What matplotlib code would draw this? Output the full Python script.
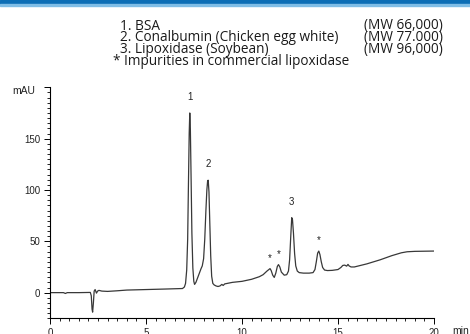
import numpy as np
import matplotlib.pyplot as plt
from matplotlib.patches import Rectangle
from matplotlib.ticker import MultipleLocator

# chromatogram trace, retention time (min) vs absorbance (mAU)
time_min = [0.0, 0.7, 0.8, 0.9, 1.5, 2.1, 2.15, 2.19, 2.22, 2.26, 2.3, 2.35, 2.42, 2.48, 2.55,
            2.7, 3.0, 3.5, 4.0, 5.0, 6.0, 6.9, 7.0, 7.06, 7.12, 7.17, 7.21, 7.25, 7.28,
            7.31, 7.35, 7.39, 7.44, 7.49, 7.53, 7.6, 7.7, 7.8, 7.87, 7.93, 8.0, 8.06,
            8.12, 8.17, 8.21, 8.24, 8.28, 8.32, 8.37, 8.42, 8.48, 8.55, 8.65, 8.75, 8.85,
            8.95, 9.02, 9.1, 9.5, 10.0, 10.5, 10.9, 11.1, 11.3, 11.4, 11.46, 11.52, 11.6,
            11.68, 11.76, 11.84, 11.9, 11.97, 12.05, 12.2, 12.33, 12.42, 12.48, 12.54,
            12.59, 12.63, 12.68, 12.74, 12.8, 12.88, 12.98, 13.2, 13.5, 13.7, 13.8, 13.87,
            13.94, 14.0, 14.06, 14.13, 14.2, 14.3, 14.45, 14.7, 15.0, 15.15, 15.25, 15.35,
            15.45, 15.52, 15.58, 15.68, 15.85, 16.5, 17.2, 17.8, 18.3, 18.6, 19.0, 20.0]
absorbance_mau = [0.0, 0.0, -0.8, 0.0, 0.0, 0.2, -3, -16, -19, -10, 1.5, 3, -0.5, 1.5, 2.2,
                  1.5, 1.2, 1.8, 2.5, 3.0, 3.5, 4.0, 5.5, 9, 22, 52, 105, 155, 175,
                  160, 110, 58, 24, 11, 8, 10, 15, 20, 23.5, 26, 33, 52,
                  80, 100, 109, 109.5, 98, 70, 36, 16, 9, 7.5, 6.5, 6, 6.5,
                  8, 7, 8.5, 10, 11, 13, 15.5, 17.5, 21, 22.5, 23.4, 21.5, 17,
                  14.8, 19, 25.5, 27.3, 25, 20, 17, 17.5, 21, 32, 55,
                  73, 71, 58, 38, 26, 21, 19.5, 19, 19, 19.5, 22.5, 30,
                  38.5, 40.5, 37, 30, 24.5, 22, 21.5, 21.7, 22.5, 24.5, 26.5, 26.8,
                  25.8, 27.5, 26, 25, 25, 28, 32, 36, 38.8, 39.8, 40.2, 40.5]

# peak annotations
peak_times = [7.28, 8.24, 12.59, 11.46, 11.9, 14.0]
peak_labels = ['1', '2', '3', '*', '*', '*']

legend_names = ['  1. BSA',
                '  2. Conalbumin (Chicken egg white)',
                '  3. Lipoxidase (Soybean)',
                '* Impurities in commercial lipoxidase']
legend_mw = ['(MW 66,000)', '(MW 77.000)', '(MW 96,000)']

fig = plt.figure(figsize=(4.7, 3.34), dpi=100)
fig.patches.append(Rectangle((0, 1 - 4 / 334), 1, 4 / 334, transform=fig.transFigure,
                             color='#0b6db5', zorder=0))
fig.patches.append(Rectangle((0, 1 - 5.5 / 334), 1, 1.5 / 334, transform=fig.transFigure,
                             color='#7fbde6', zorder=0))

ax = fig.add_axes([50 / 470, 15.7 / 334, 384 / 470, 231 / 334])
ax.plot(time_min, absorbance_mau, color='#383838', lw=0.9)

ax.set_xlim(0, 20)
ax.set_ylim(-25, 200)
for s in ['top', 'right']:
    ax.spines[s].set_visible(False)
ax.spines['left'].set_linewidth(0.8)
ax.spines['bottom'].set_linewidth(0.8)

ax.set_xticks([0, 5, 10, 15, 20])
ax.xaxis.set_minor_locator(MultipleLocator(0.5))
ax.set_yticks([0, 50, 100, 150, 200])
ax.set_yticklabels(['0', '50', '100', '150', ''])
ax.yaxis.set_minor_locator(MultipleLocator(5))
ax.tick_params(which='major', direction='out', length=4.5, width=0.7,
               labelsize=7, labelcolor='#222222', pad=2.5)
ax.tick_params(which='minor', direction='out', length=2.2, width=0.6)
for lab in ax.get_xticklabels() + ax.get_yticklabels():
    lab.set_family('Liberation Sans')

fig.text(12 / 470, 1 - 91 / 334, 'mAU', fontsize=7.5, family='Liberation Sans',
         color='#222222', va='center', ha='left')
fig.text(452 / 470, 1 - 331 / 334, 'min', fontsize=7.5, family='Liberation Sans',
         color='#222222', va='center', ha='left')

# label each peak just above its apex
t_arr = np.array(time_min)
a_arr = np.array(absorbance_mau)
for t, lab in zip(peak_times, peak_labels):
    near = np.abs(t_arr - t) < 0.08
    top = a_arr[near].max()
    if lab == '*':
        ax.annotate(lab, (t, top), xytext=(0, 4), textcoords='offset points',
                    ha='center', va='bottom', fontsize=7, family='Liberation Sans',
                    color='#222222')
    else:
        ax.annotate(lab, (t, top), xytext=(0, 8), textcoords='offset points',
                    ha='center', va='bottom', fontsize=7, family='Liberation Sans',
                    color='#222222')

# compound list above the plot, one block per column
fig.text(113 / 470, 1 - 18.5 / 334, '\n'.join(legend_names), fontsize=9.8,
         family='Open Sans', color='#1a1a1a', va='top', ha='left', linespacing=0.71)
fig.text(443 / 470, 1 - 18.5 / 334, '\n'.join(legend_mw), fontsize=9.8,
         family='Open Sans', color='#1a1a1a', va='top', ha='right',
         multialignment='right', linespacing=0.71)

fig.savefig('out.png', dpi=100)
